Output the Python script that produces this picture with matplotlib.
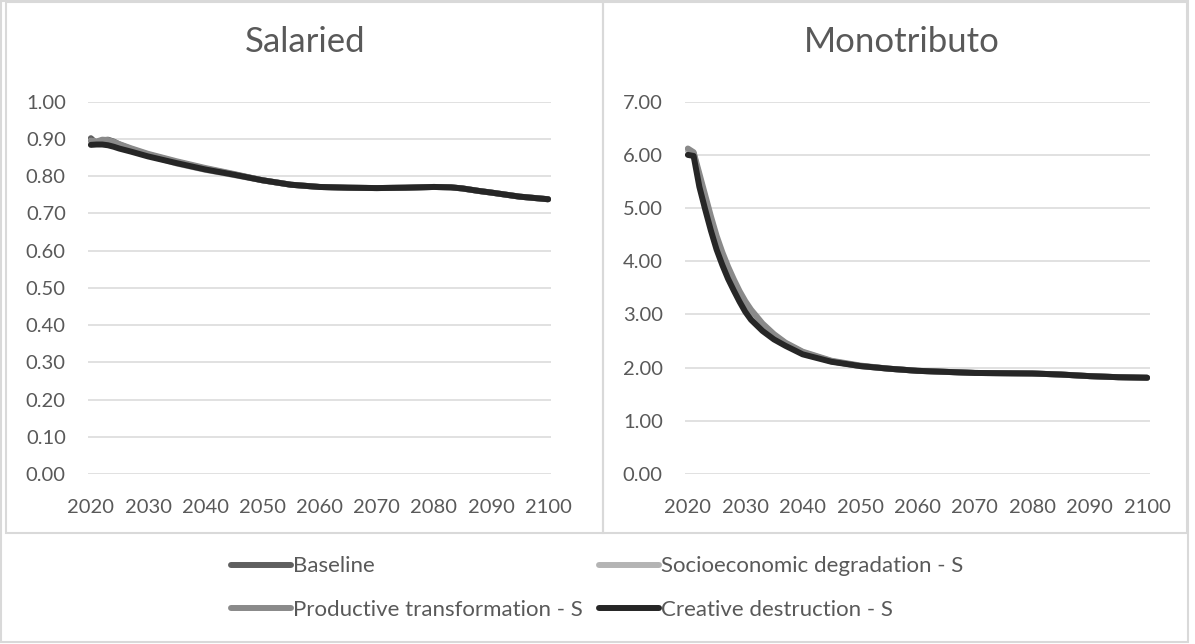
import matplotlib
matplotlib.use("Agg")
import matplotlib.pyplot as plt
from matplotlib.patches import Rectangle
from matplotlib.ticker import FormatStrFormatter, MultipleLocator

plt.rcParams['font.family'] = ['Lato', 'DejaVu Sans']

# --- Dados ---
series_names = ['Baseline', 'Socioeconomic degradation - S',
                'Productive transformation - S', 'Creative destruction - S']
series_colors = ['#5f5f5f', '#b4b4b4', '#8a8a8a', '#262626']

# Salaried
sal_years = [2020, 2021, 2022, 2023, 2024, 2025, 2027, 2030, 2035, 2040, 2045,
             2050, 2055, 2060, 2065, 2070, 2075, 2080, 2083, 2085, 2088, 2090, 2095, 2100]
sal_tail = [0.789, 0.777, 0.771, 0.769, 0.768, 0.769, 0.771, 0.770, 0.767, 0.760, 0.756, 0.745, 0.738]
sal_baseline = [0.902, 0.888, 0.896, 0.898, 0.893, 0.885, 0.873, 0.858, 0.838, 0.820, 0.805] + sal_tail
sal_socio = [0.895, 0.892, 0.896, 0.895, 0.890, 0.884, 0.873, 0.857, 0.834, 0.817, 0.803] + sal_tail
sal_productive = [0.895, 0.893, 0.898, 0.897, 0.892, 0.886, 0.875, 0.860, 0.840, 0.822, 0.806] + sal_tail
sal_creative = [0.884, 0.885, 0.885, 0.883, 0.879, 0.874, 0.866, 0.853, 0.835, 0.818, 0.804] + sal_tail

# Monotributo
mono_years = [2020, 2021, 2022, 2023, 2024, 2025, 2026, 2027, 2028, 2029, 2030, 2031,
              2033, 2035, 2037, 2040, 2045, 2050, 2055, 2060, 2070, 2080, 2085, 2090,
              2095, 2100]
mono_tail = [1.94, 1.90, 1.89, 1.87, 1.84, 1.82, 1.81]
mono_baseline = [6.10, 6.03, 5.55, 5.15, 4.75, 4.38, 4.08, 3.80, 3.57, 3.36, 3.18, 3.03,
                 2.78, 2.59, 2.45, 2.28, 2.12, 2.03, 1.98] + mono_tail
mono_socio = [6.08, 6.02, 5.60, 5.20, 4.80, 4.43, 4.12, 3.85, 3.62, 3.40, 3.21, 3.05,
              2.80, 2.61, 2.46, 2.29, 2.12, 2.03, 1.98] + mono_tail
mono_productive = [6.12, 6.05, 5.65, 5.25, 4.85, 4.48, 4.17, 3.90, 3.66, 3.44, 3.25, 3.09,
                   2.83, 2.63, 2.47, 2.30, 2.13, 2.04, 1.98] + mono_tail
mono_creative = [6.00, 5.98, 5.40, 4.98, 4.58, 4.22, 3.93, 3.67, 3.45, 3.24, 3.05, 2.90,
                 2.69, 2.53, 2.41, 2.25, 2.11, 2.03, 1.98] + mono_tail

x_ticks = [2020, 2030, 2040, 2050, 2060, 2070, 2080, 2090, 2100]

TEXT = '#595959'
GRID = '#d9d9d9'
W, H = 1195, 644


def px_box(x0, y0, x1, y1):
    """Caixa em pixels (origem no topo) -> fração da figura."""
    return [x0 / W, 1 - y1 / H, (x1 - x0) / W, (y1 - y0) / H]


fig = plt.figure(figsize=(W / 100, H / 100), dpi=100)

# molduras estilo Excel
for box in [(1, 1, 1188, 642), (6, 2, 603, 533), (603, 2, 1187, 533)]:
    l, b, w, h = px_box(*box)
    fig.patches.append(Rectangle((l, b), w, h, transform=fig.transFigure,
                                 fill=False, ec=GRID, lw=1.5))


def draw_panel(ax, title, years, data, ymax, step, title_x):
    for vals, name, col in zip(data, series_names, series_colors):
        ax.plot(years, vals, color=col, lw=4.3, label=name,
                solid_capstyle='round', solid_joinstyle='round')
    ax.set_xlim(2019.5, 2100.5)
    ax.set_ylim(0, ymax)
    ax.yaxis.set_major_locator(MultipleLocator(step))
    ax.yaxis.set_major_formatter(FormatStrFormatter('%.2f'))
    ax.set_xticks(x_ticks)
    ax.grid(axis='y', color=GRID, lw=1.1)
    ax.set_axisbelow(True)
    for s in ax.spines.values():
        s.set_visible(False)
    ax.tick_params(axis='both', length=0, labelsize=14.5, colors=TEXT)
    ax.tick_params(axis='y', pad=16)
    ax.tick_params(axis='x', pad=18)
    fig.text(title_x / W, 1 - 42 / H, title, ha='center', va='center',
             fontsize=25, color=TEXT)


ax1 = fig.add_axes(px_box(88, 101.7, 551, 474))
draw_panel(ax1, 'Salaried', sal_years,
           [sal_baseline, sal_socio, sal_productive, sal_creative], 1.0, 0.1, 305)

ax2 = fig.add_axes(px_box(685, 101.7, 1150, 474))
draw_panel(ax2, 'Monotributo', mono_years,
           [mono_baseline, mono_socio, mono_productive, mono_creative], 7.0, 1.0, 902)

handles, labels = ax1.get_legend_handles_labels()
order = [0, 2, 1, 3]
fig.legend([handles[i] for i in order], [labels[i] for i in order], ncol=2,
           loc='center', bbox_to_anchor=(597 / W, 1 - 588 / H), frameon=False,
           fontsize=16, labelcolor=TEXT, handlelength=2.7, handletextpad=0.1,
           columnspacing=0.7, labelspacing=1.05)

fig.savefig('out.png', dpi=100)
